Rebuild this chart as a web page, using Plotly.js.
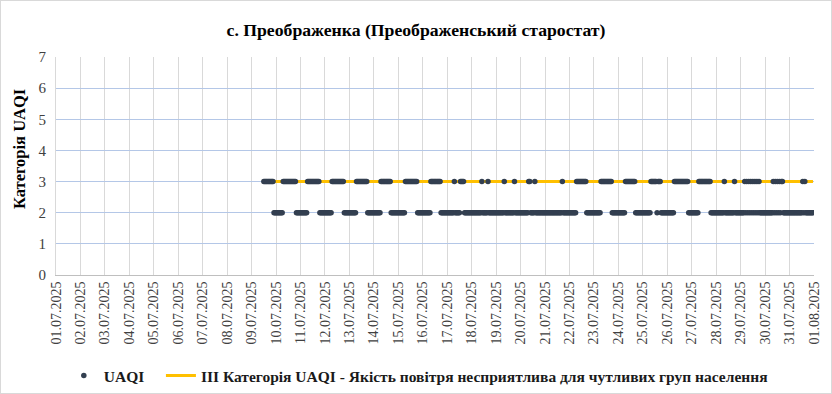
<!DOCTYPE html>
<html>
<head>
<meta charset="utf-8">
<script src="https://cdn.plot.ly/plotly-3.0.1.min.js"></script>
<style>
  html, body { margin: 0; padding: 0; background: #ffffff; }
  #wrap { position: relative; width: 832px; height: 394px; }
  #chart { width: 832px; height: 394px; }
  #frame { position: absolute; left: 0; top: 0; width: 830px; height: 392px;
           border: 1px solid #d9d9d9; pointer-events: none; }
</style>
</head>
<body>
<div id="wrap"><div id="chart"></div><div id="frame"></div></div>
<script>
// ---- Data (hourly UAQI category, '.' = no data) ----
const days = [
  '2025-07-09','2025-07-10','2025-07-11','2025-07-12','2025-07-13','2025-07-14',
  '2025-07-15','2025-07-16','2025-07-17','2025-07-18','2025-07-19','2025-07-20',
  '2025-07-21','2025-07-22','2025-07-23','2025-07-24','2025-07-25','2025-07-26',
  '2025-07-27','2025-07-28','2025-07-29','2025-07-30','2025-07-31'
];
// 24 characters per day, one per hour 00..23
const hourlyUAQI = [
  '............333333333322',
  '222222233333333333332222',
  '222222233333333333322222',
  '222222233333333333322222',
  '222222233333333333222222',
  '222222233333333332222222',
  '222222233333333333322222',
  '222222223333333333222222',
  '222222232222233332222222',
  '222222222232222232222222',
  '222222223222222222322222',
  '222222223322223222222222',
  '222222222222222223222222',
  '222222233333333332222222',
  '222222233333333333222222',
  '222222233333333332222222',
  '222222223333332333222222',
  '222222233333333333333222',
  '222222233333333333322222',
  '222222223222222222322222',
  '222232323232323232322222',
  '222222223232323233222222',
  '222222222222232322222222'
];
const thresholdValue = 3;
const seriesName = 'UAQI';
const thresholdName = 'ІІІ Категорія UAQI - Якість повітря несприятлива для чутливих груп населення';
const tickDates = [
  '2025-07-01','2025-07-02','2025-07-03','2025-07-04','2025-07-05','2025-07-06',
  '2025-07-07','2025-07-08','2025-07-09','2025-07-10','2025-07-11','2025-07-12',
  '2025-07-13','2025-07-14','2025-07-15','2025-07-16','2025-07-17','2025-07-18',
  '2025-07-19','2025-07-20','2025-07-21','2025-07-22','2025-07-23','2025-07-24',
  '2025-07-25','2025-07-26','2025-07-27','2025-07-28','2025-07-29','2025-07-30',
  '2025-07-31','2025-08-01'
];
const yTicks = [0,1,2,3,4,5,6,7];
const chartTitle = 'с. Преображенка (Преображенський старостат)';
const yTitle = 'Категорія UAQI';

// ---- Build traces ----
const xs = [], ys = [], xAll = [];
days.forEach((d, i) => {
  const s = hourlyUAQI[i];
  for (let h = 0; h < 24; h++) {
    const c = s[h];
    if (c === '.') continue;
    const t = d + ' ' + String(h).padStart(2, '0') + ':00';
    xAll.push(t);
    xs.push(t);
    ys.push(Number(c));
  }
});
const tickText = tickDates.map(d => { const p = d.split('-'); return p[2] + '.' + p[1] + '.' + p[0]; });

const serif = 'Liberation Serif';

const traces = [
  {
    x: xAll, y: xAll.map(() => thresholdValue),
    type: 'scatter', mode: 'lines',
    name: '<b>' + thresholdName + '</b>',
    line: { color: '#ffc000', width: 3 },
    hoverinfo: 'skip'
  },
  {
    x: xs, y: ys,
    type: 'scatter', mode: 'markers',
    name: '<b>' + seriesName + '</b>\u00a0\u00a0\u00a0',
    marker: { color: '#333f50', size: 5.5 }
  }
];

const layout = {
  width: 832, height: 394,
  margin: { l: 56, r: 18, t: 57, b: 119, autoexpand: false },
  paper_bgcolor: '#ffffff', plot_bgcolor: '#ffffff',
  font: { family: serif, color: '#404040', size: 14 },
  title: {
    text: '<b>' + chartTitle + '</b>',
    font: { family: serif, size: 17.7, color: '#000000' },
    x: 0.5, xanchor: 'center', y: 0.925, yanchor: 'middle'
  },
  xaxis: {
    type: 'date', automargin: false,
    range: ['2025-07-01', '2025-08-01'],
    tickvals: tickDates, ticktext: tickText,
    tickangle: -90,
    tickfont: { family: serif, size: 14, color: '#404040' },
    showgrid: true, gridcolor: '#d9d9d9', gridwidth: 1,
    showline: true, linecolor: '#bfbfbf', linewidth: 1,
    ticks: '', zeroline: false
  },
  yaxis: {
    range: [0, 7], automargin: false,
    tickvals: yTicks,
    tickfont: { family: serif, size: 15, color: '#404040' },
    ticklabelstandoff: 6,
    showgrid: true, gridcolor: '#b4c7e7', gridwidth: 1,
    showline: true, linecolor: '#d9d9d9', linewidth: 1,
    zeroline: false, ticks: ''
  },
  annotations: [{
    text: '<b>' + yTitle + '</b>',
    xref: 'paper', yref: 'paper',
    x: -0.0475, y: 0.578, xanchor: 'center', yanchor: 'middle',
    textangle: -90, showarrow: false,
    font: { family: serif, size: 16.5, color: '#000000' }
  }],
  showlegend: true,
  legend: {
    orientation: 'h', traceorder: 'reversed',
    x: 0.478, xanchor: 'center', y: -0.463, yanchor: 'middle',
    font: { family: serif, size: 15.5, color: '#1a1a1a' },
    bgcolor: 'rgba(0,0,0,0)'
  }
};

Plotly.newPlot('chart', traces, layout, { displayModeBar: false, staticPlot: true });
</script>
</body>
</html>
